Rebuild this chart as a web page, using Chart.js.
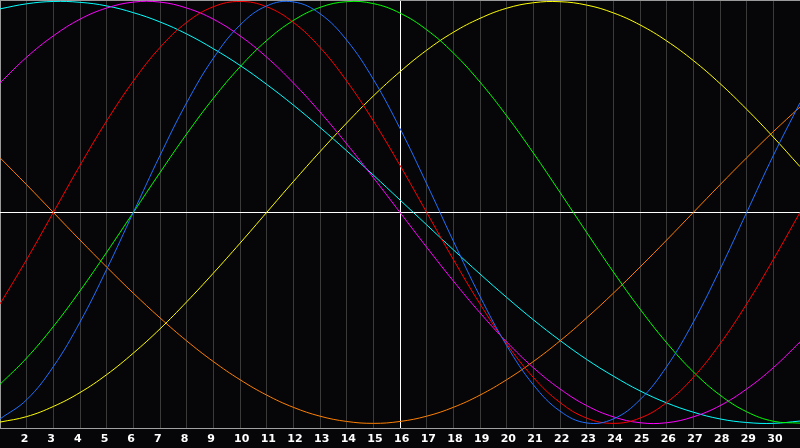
<!DOCTYPE html>
<html>
<head>
<meta charset="utf-8">
<script src="https://cdn.jsdelivr.net/npm/chart.js@4/dist/chart.umd.min.js"></script>
<style>
html,body{margin:0;padding:0;background:#060609;}
#wrap{width:800px;height:448px;position:relative;}
</style>
</head>
<body>
<div id="wrap"><canvas id="c" width="800" height="448"></canvas></div>
<script>
// Days of the month (x axis)
const days = [1,2,3,4,5,6,7,8,9,10,11,12,13,14,15,16,17,18,19,20,21,22,23,24,25,26,27,28,29,30,31];
const today = 16;

// Biorhythm cycles, values in percent
const physical = [-97.9,-88.8,-73.1,-52.0,-27.0,0,27.0,52.0,73.1,88.8,97.9,99.8,94.2,81.7,63.1,39.8,13.6,-13.6,-39.8,-63.1,-81.7,-94.2,-99.8,-97.9,-88.8,-73.1,-52.0,-27.0,0,27.0,52.0];
const emotional = [-43.4,-22.3,0,22.3,43.4,62.3,78.2,90.1,97.5,100,97.5,90.1,78.2,62.3,43.4,22.3,0,-22.3,-43.4,-62.3,-78.2,-90.1,-97.5,-100,-97.5,-90.1,-78.2,-62.3,-43.4,-22.3,0];
const intellectual = [-81.5,-69.0,-54.1,-37.2,-18.9,0,18.9,37.2,54.1,69.0,81.5,91.0,97.2,99.9,99.0,94.5,86.6,75.6,61.8,45.8,28.2,9.5,-9.5,-28.2,-45.8,-61.8,-75.6,-86.6,-94.5,-99.0,-99.9];
const intuitive = [61.4,73.6,83.7,91.6,96.9,99.7,99.7,96.9,91.6,83.7,73.6,61.4,47.6,32.5,16.5,0,-16.5,-32.5,-47.6,-61.4,-73.6,-83.7,-91.6,-96.9,-99.7,-99.7,-96.9,-91.6,-83.7,-73.6,-61.4];
const aesthetic = [-99.4,-96.8,-92.0,-85.4,-76.9,-66.7,-55.2,-42.4,-28.8,-14.6,0,14.6,28.8,42.4,55.2,66.7,76.9,85.4,92.0,96.8,99.4,99.9,98.3,94.6,88.9,81.3,72.0,61.1,48.9,35.7,21.7];
const awareness = [25.9,13.1,0,-13.1,-25.9,-38.3,-50.0,-60.9,-70.7,-79.3,-86.6,-92.4,-96.6,-99.1,-100,-99.1,-96.6,-92.4,-86.6,-79.3,-70.7,-60.9,-50.0,-38.3,-25.9,-13.1,0,13.1,25.9,38.3,50.0];
const spiritual = [96.5,98.9,100.0,99.6,97.9,94.7,90.3,84.6,77.6,69.7,60.7,50.9,40.3,29.2,17.7,5.9,-5.9,-17.7,-29.2,-40.3,-50.9,-60.7,-69.7,-77.6,-84.6,-90.3,-94.7,-97.9,-99.6,-100.0,-98.9];

const seriesNames = ['Physical','Emotional','Intellectual','Intuitive','Aesthetic','Awareness','Spiritual'];
const seriesData = [physical, emotional, intellectual, intuitive, aesthetic, awareness, spiritual];
const seriesColors = ['#1f70ff','#ff0000','#00ff00','#ff00ff','#ffff00','#ff8000','#00ffff'];

const yMin = -102.2, yMax = 100.7;

const bgPlugin = {
  id: 'bg',
  beforeDraw(chart) {
    const ctx = chart.ctx;
    ctx.save();
    ctx.fillStyle = '#060609';
    ctx.fillRect(0, 0, chart.width, chart.height);
    ctx.restore();
  }
};

new Chart(document.getElementById('c'), {
  type: 'line',
  data: {
    labels: days.map(String),
    datasets: seriesData.map((d, i) => ({
      label: seriesNames[i],
      data: d,
      borderColor: seriesColors[i],
      backgroundColor: seriesColors[i],
      borderWidth: 1,
      pointRadius: 0,
      tension: 0.4,
      fill: false
    }))
  },
  options: {
    responsive: false,
    animation: false,
    devicePixelRatio: 1,
    layout: { padding: 0 },
    plugins: { legend: { display: false }, tooltip: { enabled: false } },
    scales: {
      x: {
        type: 'category',
        offset: false,
        afterFit(s) { s.height = 20; s.paddingLeft = 0; s.paddingRight = 0; },
        border: { display: true, color: '#a0a0a0', width: 1 },
        grid: {
          drawTicks: false,
          color(ctx) {
            if (ctx.index === 0) return '#9a9a9a';
            if (days[ctx.index] === today) return '#ffffff';
            return '#3a3a3a';
          },
          lineWidth: 1
        },
        ticks: {
          autoSkip: false,
          maxRotation: 0,
          minRotation: 0,
          align: 'start',
          labelOffset: -6,
          padding: 5,
          color: '#ffffff',
          font: { family: 'DejaVu Sans', size: 11, weight: 'bold' },
          callback(v, i) { return (i === 0 || i === days.length - 1) ? '' : String(days[i]); }
        }
      },
      y: {
        min: yMin,
        max: yMax,
        afterFit(s) { s.width = 0; s.paddingTop = 0; s.paddingBottom = 0; },
        afterBuildTicks(s) { s.ticks = [{ value: 0 }, { value: yMax }]; },
        border: { display: false },
        grid: {
          drawTicks: false,
          color(ctx) { return ctx.tick && ctx.tick.value === 0 ? '#ffffff' : '#9a9a9a'; },
          lineWidth: 1
        },
        ticks: { display: false }
      }
    }
  },
  plugins: [bgPlugin]
});
</script>
</body>
</html>
